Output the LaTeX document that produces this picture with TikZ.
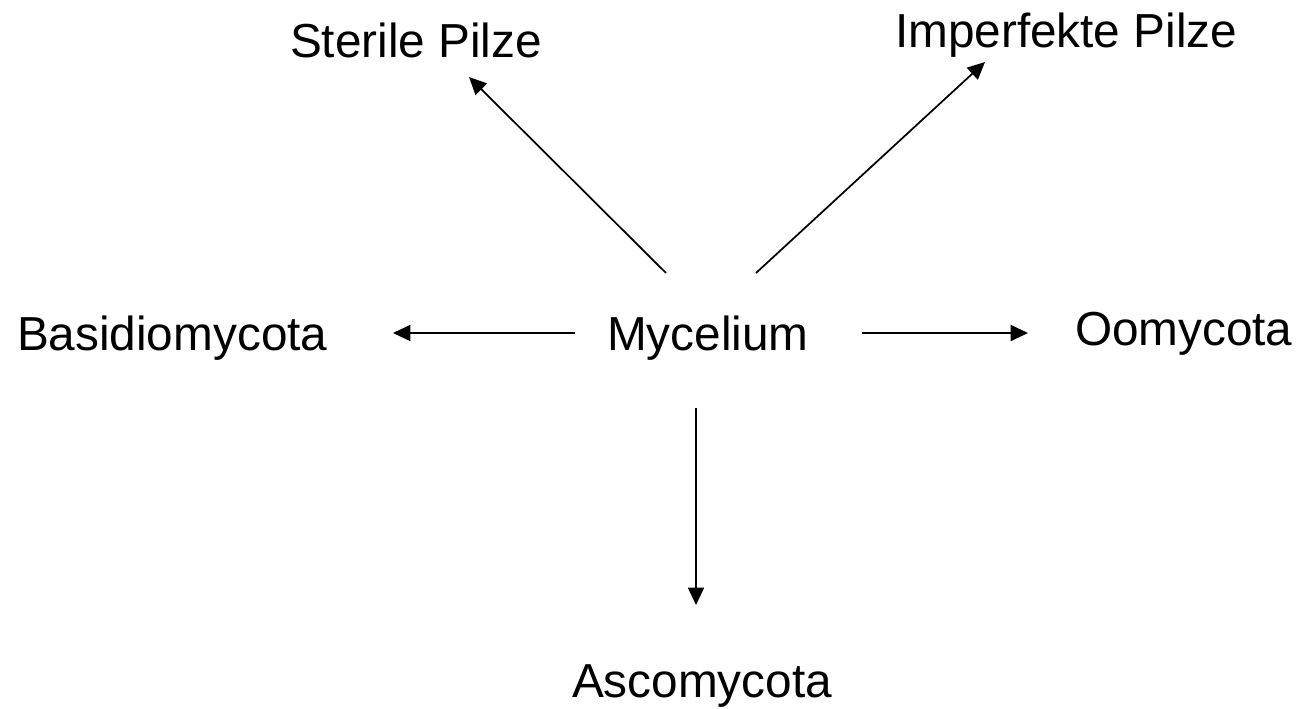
\documentclass[tikz,border=0pt]{standalone}
\usepackage{fontspec}
\setmainfont{Liberation Sans}
\usetikzlibrary{arrows.meta}
\begin{document}
\begin{tikzpicture}[x=0.75pt,y=-0.75pt,
  lbl/.style={anchor=base west,inner sep=0pt,outer sep=0pt,font=\fontsize{35.8pt}{42pt}\selectfont},
  arr/.style={-{Triangle[length=13pt,width=12pt]},line width=1.3pt,black}]
\useasboundingbox (0,0) rectangle (1300,708);
\node[lbl] (myc) at (607,350) {Mycelium};
\node[lbl] (bas) at (17,350) {Basidiomycota};
\node[lbl] (oom) at (1075,345) {Oomycota};
\node[lbl] (asc) at (572,697) {Ascomycota};
\node[lbl] (ste) at (290,57) {Sterile Pilze};
\node[lbl] (imp) at (895,47) {Imperfekte Pilze};
\draw[arr] ([shift={(-32,-17)}]myc.base west) -- ([shift={(376,-17)}]bas.base west);
\draw[arr] ([shift={(255,-17)}]myc.base west) -- ([shift={(-47,-12)}]oom.base west);
\draw[arr] ([shift={(89,58)}]myc.base west) -- ([shift={(124,-92)}]asc.base west);
\draw[arr] ([shift={(59,-77)}]myc.base west) -- ([shift={(179,20)}]ste.base west);
\draw[arr] ([shift={(149,-77)}]myc.base west) -- ([shift={(90,15)}]imp.base west);
\end{tikzpicture}
\end{document}
